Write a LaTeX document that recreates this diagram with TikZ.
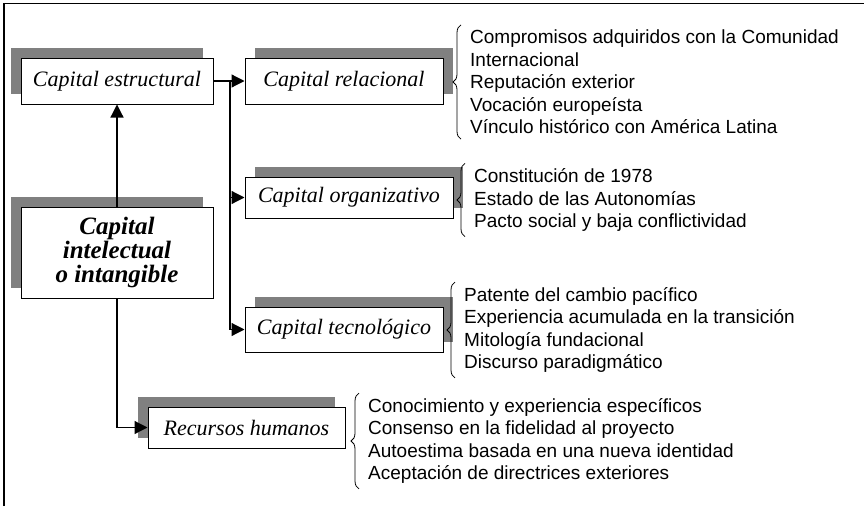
\documentclass[tikz,border=0pt]{standalone}
\usepackage{fontspec}
\setmainfont{Liberation Serif}
\newfontfamily\listfont{Liberation Sans}
\usetikzlibrary{arrows.meta}
\usetikzlibrary{shadows}
\usetikzlibrary{decorations.pathreplacing}
\definecolor{shade}{HTML}{808080}
\tikzstyle{capbox}=[draw,line width=1pt,fill=white,inner sep=0pt,font=\fontsize{22}{24}\selectfont\itshape]
\tikzstyle{shl}=[capbox,general shadow={fill=shade,shadow xshift=-10pt,shadow yshift=10pt}]
\tikzstyle{shr}=[capbox,general shadow={fill=shade,shadow xshift=10pt,shadow yshift=10pt}]
\tikzstyle{link}=[line width=1.2pt,-{Triangle[length=13pt,width=13pt]}]
\tikzstyle{items}=[anchor=west,align=left,inner xsep=0pt,inner ysep=5pt,font=\listfont\fontsize{19}{22.5}\selectfont]
\tikzstyle{brc}=[line width=.8pt,decorate,decoration={brace,amplitude=8pt}]

\begin{document}
\begin{tikzpicture}[x=1pt,y=-1pt]
	\useasboundingbox (0,0) rectangle (864,506);
	\draw[line width=1.5pt] (4,506) -- (4,3.5) -- (864,3.5);
	% boxes
	\node[shl,minimum width=192pt,minimum height=46pt] (estr) at (117,81) {Capital estructural};
	\node[shl,minimum width=192pt,minimum height=91pt,align=center,font=\fontsize{25}{24}\selectfont\bfseries\itshape] (core) at (117,252.5) {Capital\\intelectual\\o intangible};
	\node[shr,minimum width=198pt,minimum height=46pt] (rel) at (344,81) {Capital relacional};
	\node[shr,minimum width=208pt,minimum height=41pt] (org) at (349,197.5) {Capital organizativo};
	\node[shr,minimum width=198pt,minimum height=45pt] (tec) at (344,329.5) {Capital tecnológico};
	\node[shl,minimum width=197pt,minimum height=41pt] (hum) at (246.5,427.5) {Recursos humanos};
	% arrows
	\coordinate (fork) at (230,81);
	\draw[link] (core) -- (estr);
	\draw[link] (estr) -- (rel);
	\draw[link] (fork) |- (org);
	\draw[link] (fork) |- (tec);
	\draw[link] (core) |- (hum);
	% lists
	\node[items] (lrel) at (470,82) {Compromisos adquiridos con la Comunidad\\Internacional\\Reputación exterior\\Vocación europeísta\\Vínculo histórico con América Latina};
	\node[items] (lorg) at (474,200) {Constitución de 1978\\Estado de las Autonomías\\Pacto social y baja conflictividad};
	\node[items] (ltec) at (464,330) {Patente del cambio pacífico\\Experiencia acumulada en la transición\\Mitología fundacional\\Discurso paradigmático};
	\node[items] (lhum) at (368,441) {Conocimiento y experiencia específicos\\Consenso en la fidelidad al proyecto\\Autoestima basada en una nueva identidad\\Aceptación de directrices exteriores};
	\draw[brc] ([xshift=-9pt]lrel.south west) -- ([xshift=-9pt]lrel.north west);
	\draw[brc] ([xshift=-9pt]lorg.south west) -- ([xshift=-9pt]lorg.north west);
	\draw[brc] ([xshift=-9pt]ltec.south west) -- ([xshift=-9pt]ltec.north west);
	\draw[brc] ([xshift=-9pt]lhum.south west) -- ([xshift=-9pt]lhum.north west);
\end{tikzpicture}
\end{document}
